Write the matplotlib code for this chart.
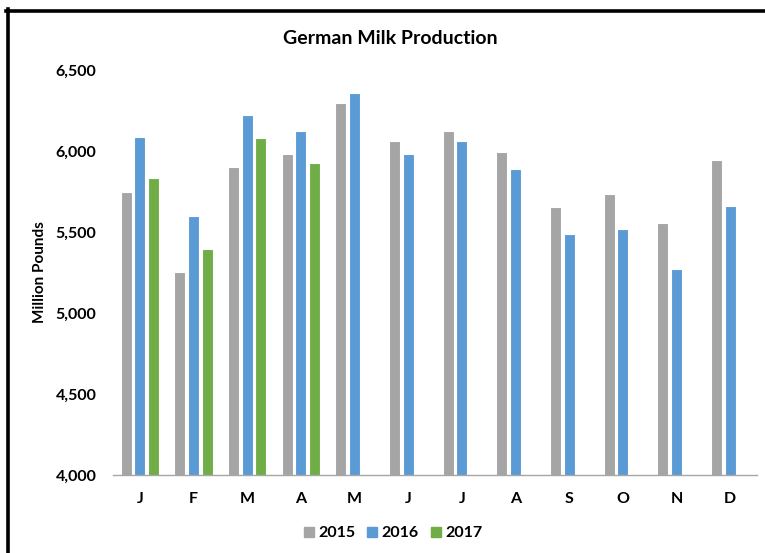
import numpy as np
import matplotlib.pyplot as plt
from matplotlib.lines import Line2D
from matplotlib.ticker import FuncFormatter

plt.rcParams['font.family'] = ['Lato', 'DejaVu Sans']

months = ['J', 'F', 'M', 'A', 'M', 'J', 'J', 'A', 'S', 'O', 'N', 'D']
years = ['2015', '2016', '2017']
y2015 = [5750, 5255, 5905, 5985, 6295, 6062, 6122, 5992, 5655, 5733, 5556, 5945]
y2016 = [6087, 5601, 6224, 6126, 6360, 5984, 6062, 5887, 5486, 5517, 5272, 5661]
y2017 = [5836, 5394, 6080, 5930]
colors = ['#A5A5A5', '#5B9BD5', '#70AD47']

fig = plt.figure(figsize=(7.65, 5.53), dpi=100)
ax = fig.add_axes([0.1477, 0.141, 0.842, 0.732])

x = np.arange(len(months))
w = 0.205
step = 0.254
for i, vals in enumerate([y2015, y2016, y2017]):
    xs = x[:len(vals)] + (i - 1) * step
    ax.bar(xs, vals, width=w, color=colors[i], edgecolor='white', linewidth=0.8, zorder=2)

ax.set_xlim(-0.5, 11.5)
ax.set_ylim(4000, 6500)
ax.set_yticks([4000, 4500, 5000, 5500, 6000, 6500])
ax.yaxis.set_major_formatter(FuncFormatter(lambda v, p: f'{int(v):,}'))
ax.set_xticks(x)
ax.set_xticklabels(months)
for s in ['top', 'right', 'left']:
    ax.spines[s].set_visible(False)
ax.spines['bottom'].set_color('#A6A6A6')
ax.spines['bottom'].set_linewidth(1.0)
ax.tick_params(axis='both', length=0, labelsize=11.5)
ax.tick_params(axis='x', pad=12)
ax.tick_params(axis='y', pad=12)
for lab in ax.get_xticklabels() + ax.get_yticklabels():
    lab.set_fontweight('bold')

fig.text(0.51, 0.931, 'German Milk Production', ha='center', va='center',
         fontsize=14, fontweight='bold')
fig.text(0.052, 0.508, 'Million Pounds', ha='center', va='center',
         rotation=90, fontsize=11, fontweight='bold')

handles = [Line2D([], [], marker='s', linestyle='none', markersize=7.5,
                  markerfacecolor=c, markeredgecolor=c) for c in colors]
fig.legend(handles, years, loc='center', bbox_to_anchor=(0.514, 0.036), ncol=3,
           frameon=False, handlelength=0.6, handletextpad=0.3, columnspacing=0.75,
           prop={'weight': 'bold', 'size': 11.5})

# black frame lines (top and left)
fig.add_artist(Line2D([0.008, 1.0], [0.980, 0.980], transform=fig.transFigure,
                      color='black', linewidth=2.6))
fig.add_artist(Line2D([0.011, 0.011], [0.0, 0.983], transform=fig.transFigure,
                      color='black', linewidth=2.6))

fig.savefig('out.png', dpi=100)
